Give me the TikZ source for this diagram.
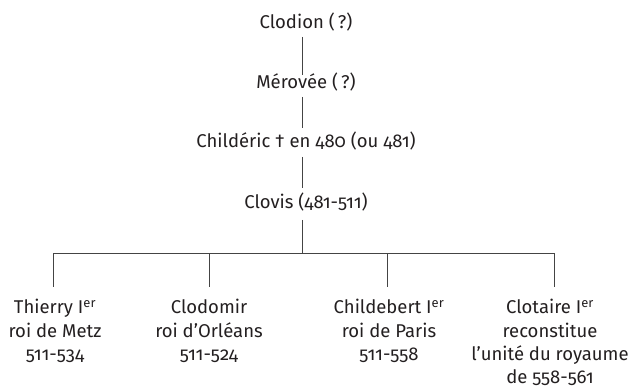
\documentclass[tikz,border=0pt]{standalone}
\usepackage{fontspec}
\setmainfont{Fira Sans}[Numbers=OldStyle]
\definecolor{ink}{HTML}{231F20}
\definecolor{rule}{HTML}{444444}
\begin{document}
\begin{tikzpicture}[x=1pt,y=-1pt,
  gen/.style={font=\fontsize{18.5}{23.4}\selectfont, text=ink, inner sep=0pt, anchor=base},
  kid/.style={font=\fontsize{18.5}{23.4}\selectfont, text=ink, inner sep=0pt, anchor=north, align=center},
  link/.style={draw=rule, line width=0.9pt}]
\useasboundingbox (0,0) rectangle (637,390);
\node[gen] (clodion) at (306,29) {Clodion (\,?)};
\node[gen] (merovee) at (306,89) {Mérovée (\,?)};
\node[gen] (childeric) at (306,148) {Childéric † en 480 (ou 481)};
\node[gen] (clovis) at (306,208) {Clovis (481-511)};
\coordinate (bus) at (302,253);
\node[kid] (thierry) at (55,299) {Thierry I\textsuperscript{er}\\roi de Metz\\511-534};
\node[kid] (clodomir) at (209,299) {Clodomir\\roi d’Orléans\\511-524};
\node[kid] (childebert) at (389,299) {Childebert I\textsuperscript{er}\\roi de Paris\\511-558};
\node[kid] (clotaire) at (550,299) {Clotaire I\textsuperscript{er}\\reconstitue\\l’unité du royaume\\de 558-561};
\draw[link] ([shift={(-4pt,-8pt)}]clodion.base) -- ([shift={(-4pt,14pt)}]merovee.base);
\draw[link] ([shift={(-4pt,-8pt)}]merovee.base) -- ([shift={(-4pt,20pt)}]childeric.base);
\draw[link] ([shift={(-4pt,-9pt)}]childeric.base) -- ([shift={(-4pt,20pt)}]clovis.base);
\draw[link] ([shift={(-4pt,-12pt)}]clovis.base) -- (bus);
\draw[link] ([xshift=-2pt]bus -| thierry.north) -- ([xshift=4pt]bus -| clotaire.north);
\draw[link] ([xshift=-2pt]bus -| thierry.north) -- ([shift={(-2pt,12pt)}]thierry.north);
\draw[link] (bus -| clodomir.north) -- ([yshift=12pt]clodomir.north);
\draw[link] ([xshift=-2pt]bus -| childebert.north) -- ([shift={(-2pt,12pt)}]childebert.north);
\draw[link] ([xshift=4pt]bus -| clotaire.north) -- ([shift={(4pt,12pt)}]clotaire.north);
\end{tikzpicture}
\end{document}
